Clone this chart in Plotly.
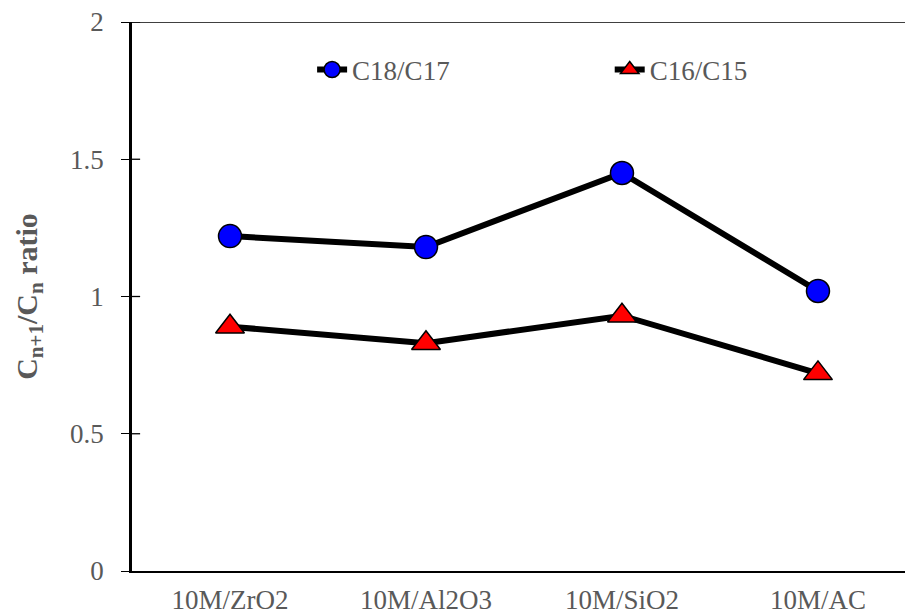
import plotly.graph_objects as go

categories = ["10M/ZrO2", "10M/Al2O3", "10M/SiO2", "10M/AC"]
c18_c17 = [1.22, 1.18, 1.45, 1.02]
c16_c15 = [0.89, 0.83, 0.93, 0.72]
y_ticks = [0, 0.5, 1, 1.5, 2]
y_ticklabels = ["0", "0.5", "1", "1.5", "2"]

FONT = "Times New Roman, Liberation Serif, DejaVu Serif, serif"
GRAY = "#595959"

fig = go.Figure()
fig.add_trace(go.Scatter(
    x=categories, y=c18_c17, name="C18/C17", mode="lines+markers", legend="legend",
    line=dict(color="black", width=6),
    marker=dict(symbol="circle", size=23, color="#0000FF", line=dict(color="black", width=1.5)),
))
fig.add_trace(go.Scatter(
    x=categories, y=c16_c15, name="C16/C15", mode="lines+markers", legend="legend2",
    line=dict(color="black", width=6),
    marker=dict(symbol="triangle-up", size=25, color="#FF0000", line=dict(color="black", width=1.5)),
))

# thin top border line at y=2 and inward half of the y ticks
fig.add_shape(type="line", xref="paper", yref="y", x0=-0.0105, x1=1, y0=y_ticks[-1], y1=y_ticks[-1],
              line=dict(color="black", width=1.3))
for v in y_ticks[1:]:
    fig.add_shape(type="line", xref="paper", yref="y", x0=0, x1=0.0105, y0=v, y1=v,
                  line=dict(color="black", width=1.3))

legend_common = dict(orientation="h", yanchor="middle", xanchor="left", y=0.9126,
                     font=dict(family=FONT, size=27, color=GRAY), bgcolor="rgba(0,0,0,0)")

fig.update_layout(
    width=905, height=615,
    margin=dict(l=132, r=0, t=22, b=44, autoexpand=False),
    paper_bgcolor="white", plot_bgcolor="white",
    font=dict(family=FONT, color=GRAY, size=27),
    showlegend=True,
    legend=dict(x=0.233, **legend_common),
    legend2=dict(x=0.618, **legend_common),
    xaxis=dict(type="category", range=[-0.5, 3.444], showline=True, linecolor="black", linewidth=2,
               ticks="", showgrid=False, zeroline=False, ticklabelstandoff=4, automargin=False,
               tickfont=dict(family=FONT, size=27, color=GRAY)),
    yaxis=dict(range=[0, 2], tickvals=y_ticks, ticktext=y_ticklabels, showline=True,
               linecolor="black", linewidth=2.5, ticks="outside", ticklen=8, tickwidth=1.3,
               tickcolor="black", showgrid=False, zeroline=False, ticklabelstandoff=12,
               automargin=False,
               tickfont=dict(family=FONT, size=27, color=GRAY),
               title=dict(text="<b>C<sub>n+1</sub>/C<sub>n</sub> ratio</b>",
                          font=dict(family=FONT, size=30, color=GRAY), standoff=24)),
)

fig.write_html("out.html")
